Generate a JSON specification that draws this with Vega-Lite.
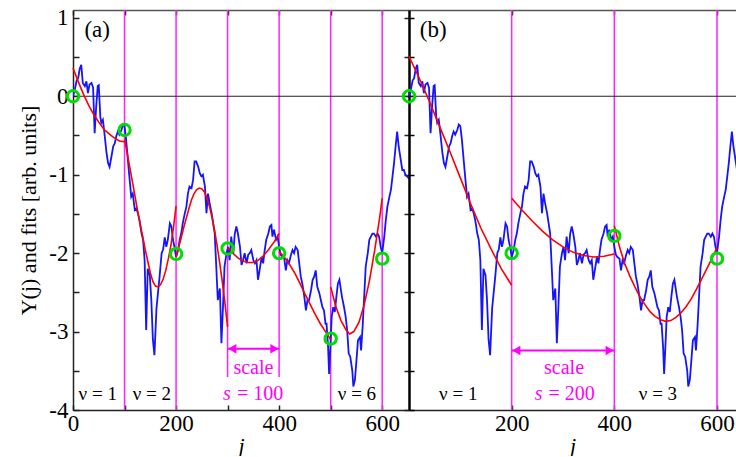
{
  "$schema": "https://vega.github.io/schema/vega-lite/v6.json",
  "padding": {"left": 17, "top": 6, "right": 0, "bottom": 0},
  "spacing": 0,
  "bounds": "flush",
  "background": "white",
  "config": {
    "view": {"stroke": null},
    "axis": {"labelFont": "Liberation Serif", "titleFont": "Liberation Serif", "labelFontSize": 23, "titleFontSize": 22, "labelColor": "black", "titleColor": "black", "titleFontWeight": "normal", "domainColor": "#222", "tickColor": "#222", "grid": false, "domainWidth": 1.5, "tickWidth": 1.5},
    "text": {"font": "Liberation Serif"}
  },
  "datasets": {
    "blue": [{"j":0,"y":0.0},{"j":4,"y":0.1},{"j":7,"y":0.2},{"j":10,"y":0.23},{"j":13,"y":0.35},{"j":16,"y":0.4},{"j":19,"y":0.17},{"j":23,"y":0.13},{"j":26,"y":0.19},{"j":29,"y":0.04},{"j":32,"y":0.15},{"j":36,"y":0.17},{"j":39,"y":0.11},{"j":42,"y":-0.47},{"j":45,"y":-0.13},{"j":48,"y":0.13},{"j":50,"y":0.14},{"j":53,"y":-0.26},{"j":55,"y":-0.34},{"j":58,"y":-0.3},{"j":61,"y":-0.47},{"j":65,"y":-0.72},{"j":68,"y":-0.85},{"j":71,"y":-0.9},{"j":74,"y":-0.79},{"j":78,"y":-0.64},{"j":81,"y":-0.6},{"j":84,"y":-0.51},{"j":87,"y":-0.45},{"j":90,"y":-0.49},{"j":94,"y":-0.43},{"j":97,"y":-0.36},{"j":100,"y":-0.38},{"j":103,"y":-0.55},{"j":107,"y":-0.85},{"j":110,"y":-1.07},{"j":113,"y":-1.28},{"j":116,"y":-1.24},{"j":120,"y":-1.45},{"j":123,"y":-1.43},{"j":126,"y":-1.49},{"j":129,"y":-1.58},{"j":133,"y":-1.75},{"j":136,"y":-1.83},{"j":139,"y":-2.09},{"j":142,"y":-2.98},{"j":145,"y":-2.2},{"j":149,"y":-2.28},{"j":152,"y":-2.6},{"j":155,"y":-3.1},{"j":158,"y":-3.3},{"j":162,"y":-2.7},{"j":165,"y":-2.5},{"j":168,"y":-2.3},{"j":172,"y":-2.0},{"j":175,"y":-1.95},{"j":178,"y":-1.8},{"j":181,"y":-1.92},{"j":184,"y":-1.83},{"j":188,"y":-1.62},{"j":191,"y":-1.66},{"j":194,"y":-1.83},{"j":197,"y":-1.92},{"j":200,"y":-2.05},{"j":204,"y":-1.96},{"j":207,"y":-1.83},{"j":210,"y":-1.75},{"j":213,"y":-1.62},{"j":217,"y":-1.49},{"j":220,"y":-1.41},{"j":223,"y":-1.24},{"j":226,"y":-1.15},{"j":230,"y":-1.17},{"j":233,"y":-1.07},{"j":236,"y":-0.83},{"j":239,"y":-0.83},{"j":243,"y":-0.9},{"j":246,"y":-0.98},{"j":249,"y":-1.02},{"j":252,"y":-1.0},{"j":256,"y":-1.15},{"j":259,"y":-1.49},{"j":262,"y":-1.24},{"j":265,"y":-1.36},{"j":269,"y":-1.49},{"j":272,"y":-1.62},{"j":275,"y":-1.75},{"j":278,"y":-2.17},{"j":281,"y":-2.6},{"j":285,"y":-2.45},{"j":288,"y":-3.15},{"j":291,"y":-2.69},{"j":294,"y":-2.17},{"j":298,"y":-2.0},{"j":301,"y":-1.92},{"j":304,"y":-2.09},{"j":307,"y":-1.79},{"j":311,"y":-2.0},{"j":314,"y":-1.75},{"j":317,"y":-1.66},{"j":320,"y":-1.75},{"j":324,"y":-1.92},{"j":327,"y":-2.15},{"j":330,"y":-2.09},{"j":333,"y":-2.0},{"j":337,"y":-2.13},{"j":340,"y":-2.02},{"j":343,"y":-2.0},{"j":346,"y":-1.96},{"j":350,"y":-2.09},{"j":353,"y":-2.13},{"j":356,"y":-2.09},{"j":359,"y":-2.34},{"j":362,"y":-2.22},{"j":366,"y":-2.05},{"j":369,"y":-2.13},{"j":372,"y":-1.96},{"j":375,"y":-1.83},{"j":379,"y":-1.75},{"j":382,"y":-1.66},{"j":385,"y":-1.64},{"j":387,"y":-1.79},{"j":390,"y":-1.7},{"j":394,"y":-1.83},{"j":397,"y":-1.79},{"j":400,"y":-1.92},{"j":403,"y":-2.02},{"j":406,"y":-2.05},{"j":410,"y":-2.07},{"j":413,"y":-2.22},{"j":416,"y":-2.09},{"j":419,"y":-2.13},{"j":423,"y":-2.02},{"j":426,"y":-1.96},{"j":429,"y":-2.0},{"j":432,"y":-1.92},{"j":436,"y":-1.96},{"j":439,"y":-2.13},{"j":442,"y":-2.3},{"j":445,"y":-2.39},{"j":449,"y":-2.56},{"j":452,"y":-2.73},{"j":455,"y":-2.6},{"j":458,"y":-2.6},{"j":462,"y":-2.47},{"j":465,"y":-2.34},{"j":468,"y":-2.3},{"j":471,"y":-2.22},{"j":474,"y":-2.43},{"j":478,"y":-2.51},{"j":481,"y":-2.6},{"j":484,"y":-2.69},{"j":487,"y":-2.73},{"j":490,"y":-2.9},{"j":492,"y":-2.9},{"j":495,"y":-3.2},{"j":497,"y":-3.54},{"j":500,"y":-3.11},{"j":502,"y":-2.81},{"j":505,"y":-2.69},{"j":508,"y":-2.75},{"j":511,"y":-2.56},{"j":514,"y":-2.39},{"j":517,"y":-2.34},{"j":519,"y":-2.43},{"j":522,"y":-2.56},{"j":526,"y":-2.69},{"j":529,"y":-2.81},{"j":532,"y":-2.98},{"j":535,"y":-3.28},{"j":538,"y":-3.32},{"j":542,"y":-3.5},{"j":544,"y":-3.7},{"j":547,"y":-3.62},{"j":550,"y":-3.37},{"j":553,"y":-3.11},{"j":557,"y":-3.07},{"j":559,"y":-3.24},{"j":562,"y":-2.94},{"j":565,"y":-2.56},{"j":568,"y":-2.17},{"j":572,"y":-2.0},{"j":575,"y":-1.83},{"j":578,"y":-1.79},{"j":581,"y":-1.75},{"j":584,"y":-1.75},{"j":588,"y":-1.79},{"j":591,"y":-1.75},{"j":594,"y":-1.79},{"j":597,"y":-1.92},{"j":600,"y":-2.0},{"j":604,"y":-1.79},{"j":607,"y":-1.58},{"j":610,"y":-1.41},{"j":614,"y":-1.28},{"j":617,"y":-1.19},{"j":620,"y":-1.02},{"j":623,"y":-0.85},{"j":626,"y":-0.64},{"j":629,"y":-0.45},{"j":632,"y":-0.64},{"j":636,"y":-0.81},{"j":639,"y":-0.94},{"j":642,"y":-0.94},{"j":645,"y":-1.0},{"j":648,"y":-1.02},{"j":652,"y":-1.05}],
    "fitA": [
      {"seg":1,"j":0,"y":0.36},{"seg":1,"j":10,"y":0.19},{"seg":1,"j":20,"y":0.03},{"seg":1,"j":30,"y":-0.11},{"seg":1,"j":40,"y":-0.23},{"seg":1,"j":50,"y":-0.33},{"seg":1,"j":60,"y":-0.42},{"seg":1,"j":70,"y":-0.48},{"seg":1,"j":80,"y":-0.53},{"seg":1,"j":90,"y":-0.57},{"seg":1,"j":100,"y":-0.58},
      {"seg":2,"j":100,"y":-0.55},{"seg":2,"j":105,"y":-0.72},{"seg":2,"j":110,"y":-0.9},{"seg":2,"j":115,"y":-1.08},{"seg":2,"j":120,"y":-1.26},{"seg":2,"j":125,"y":-1.45},{"seg":2,"j":130,"y":-1.62},{"seg":2,"j":135,"y":-1.78},{"seg":2,"j":140,"y":-1.95},{"seg":2,"j":145,"y":-2.1},{"seg":2,"j":150,"y":-2.25},{"seg":2,"j":155,"y":-2.36},{"seg":2,"j":160,"y":-2.42},{"seg":2,"j":165,"y":-2.43},{"seg":2,"j":170,"y":-2.4},{"seg":2,"j":175,"y":-2.33},{"seg":2,"j":180,"y":-2.22},{"seg":2,"j":185,"y":-2.07},{"seg":2,"j":190,"y":-1.9},{"seg":2,"j":195,"y":-1.67},{"seg":2,"j":200,"y":-1.4},
      {"seg":3,"j":200,"y":-2.05},{"seg":3,"j":205,"y":-1.93},{"seg":3,"j":210,"y":-1.8},{"seg":3,"j":215,"y":-1.67},{"seg":3,"j":220,"y":-1.55},{"seg":3,"j":225,"y":-1.43},{"seg":3,"j":230,"y":-1.32},{"seg":3,"j":235,"y":-1.24},{"seg":3,"j":240,"y":-1.19},{"seg":3,"j":245,"y":-1.17},{"seg":3,"j":250,"y":-1.18},{"seg":3,"j":255,"y":-1.22},{"seg":3,"j":260,"y":-1.3},{"seg":3,"j":265,"y":-1.41},{"seg":3,"j":270,"y":-1.55},{"seg":3,"j":275,"y":-1.72},{"seg":3,"j":280,"y":-1.92},{"seg":3,"j":285,"y":-2.14},{"seg":3,"j":290,"y":-2.38},{"seg":3,"j":295,"y":-2.65},{"seg":3,"j":300,"y":-2.94},
      {"seg":4,"j":300,"y":-1.93},{"seg":4,"j":310,"y":-2.0},{"seg":4,"j":320,"y":-2.06},{"seg":4,"j":330,"y":-2.1},{"seg":4,"j":340,"y":-2.12},{"seg":4,"j":350,"y":-2.12},{"seg":4,"j":360,"y":-2.09},{"seg":4,"j":370,"y":-2.03},{"seg":4,"j":380,"y":-1.95},{"seg":4,"j":390,"y":-1.86},{"seg":4,"j":400,"y":-1.75},
      {"seg":5,"j":400,"y":-1.98},{"seg":5,"j":410,"y":-2.05},{"seg":5,"j":420,"y":-2.14},{"seg":5,"j":430,"y":-2.25},{"seg":5,"j":440,"y":-2.38},{"seg":5,"j":450,"y":-2.52},{"seg":5,"j":460,"y":-2.65},{"seg":5,"j":470,"y":-2.78},{"seg":5,"j":480,"y":-2.9},{"seg":5,"j":490,"y":-3.0},{"seg":5,"j":500,"y":-3.1},
      {"seg":6,"j":500,"y":-2.43},{"seg":6,"j":510,"y":-2.68},{"seg":6,"j":520,"y":-2.86},{"seg":6,"j":530,"y":-2.98},{"seg":6,"j":537,"y":-3.03},{"seg":6,"j":545,"y":-3.0},{"seg":6,"j":555,"y":-2.88},{"seg":6,"j":565,"y":-2.66},{"seg":6,"j":575,"y":-2.36},{"seg":6,"j":585,"y":-1.98},{"seg":6,"j":595,"y":-1.55},{"seg":6,"j":600,"y":-1.3}
    ],
    "fitB": [
      {"seg":1,"j":0,"y":0.51},{"seg":1,"j":20,"y":0.23},{"seg":1,"j":40,"y":-0.07},{"seg":1,"j":60,"y":-0.39},{"seg":1,"j":80,"y":-0.71},{"seg":1,"j":100,"y":-1.04},{"seg":1,"j":120,"y":-1.37},{"seg":1,"j":140,"y":-1.68},{"seg":1,"j":160,"y":-1.95},{"seg":1,"j":180,"y":-2.2},{"seg":1,"j":200,"y":-2.41},
      {"seg":2,"j":200,"y":-1.3},{"seg":2,"j":220,"y":-1.45},{"seg":2,"j":240,"y":-1.59},{"seg":2,"j":260,"y":-1.72},{"seg":2,"j":280,"y":-1.83},{"seg":2,"j":300,"y":-1.92},{"seg":2,"j":320,"y":-1.99},{"seg":2,"j":340,"y":-2.03},{"seg":2,"j":360,"y":-2.05},{"seg":2,"j":380,"y":-2.04},{"seg":2,"j":400,"y":-2.01},
      {"seg":3,"j":400,"y":-1.65},{"seg":3,"j":410,"y":-1.92},{"seg":3,"j":420,"y":-2.13},{"seg":3,"j":430,"y":-2.29},{"seg":3,"j":440,"y":-2.43},{"seg":3,"j":450,"y":-2.56},{"seg":3,"j":460,"y":-2.66},{"seg":3,"j":470,"y":-2.75},{"seg":3,"j":480,"y":-2.81},{"seg":3,"j":490,"y":-2.85},{"seg":3,"j":500,"y":-2.87},{"seg":3,"j":510,"y":-2.86},{"seg":3,"j":520,"y":-2.82},{"seg":3,"j":530,"y":-2.76},{"seg":3,"j":540,"y":-2.68},{"seg":3,"j":550,"y":-2.58},{"seg":3,"j":560,"y":-2.46},{"seg":3,"j":570,"y":-2.33},{"seg":3,"j":580,"y":-2.2},{"seg":3,"j":590,"y":-2.07},{"seg":3,"j":600,"y":-1.93}
    ]
  },
  "hconcat": [
    {
      "width": 336,
      "height": 400,
      "resolve": {"axis": {"x": "independent", "y": "independent"}},
      "layer": [
        {
          "data": {"values": [{"j":100,"top":1.1,"bottom":-4},{"j":200,"top":1.1,"bottom":-4},{"j":300,"top":1.1,"bottom":-3.58},{"j":400,"top":1.1,"bottom":-3.58},{"j":500,"top":1.1,"bottom":-4},{"j":600,"top":1.1,"bottom":-4}]},
          "mark": {"type": "rule", "color": "#ff22ff", "strokeWidth": 1.5},
          "encoding": {
            "x": {"field": "j", "type": "quantitative", "scale": {"domain": [0, 652], "nice": false, "zero": false},
                  "axis": {"orient": "bottom", "values": [0,100,200,300,400,500,600], "labelExpr": "datum.value % 200 == 0 ? '' + datum.value : ''", "tickSize": -5, "labelPadding": 7, "title": "j", "titleFontStyle": "italic", "titlePadding": 0, "labelFlush": false}},
            "y": {"field": "top", "type": "quantitative", "scale": {"domain": [-4, 1.1], "nice": false, "zero": false},
                  "axis": {"orient": "left", "values": [-4,-3.5,-3,-2.5,-2,-1.5,-1,-0.5,0,0.5,1], "labelExpr": "datum.value % 1 == 0 ? '' + datum.value : ''", "tickSize": -6, "labelPadding": 11, "title": "Y(j) and fits [arb. units]", "titlePadding": 8, "labelFlush": false}},
            "y2": {"field": "bottom"}
          }
        },
        {
          "data": {"values": [{}]},
          "mark": {"type": "rule", "color": "#222", "strokeWidth": 1.2},
          "encoding": {"y": {"datum": 0, "type": "quantitative", "axis": null}}
        },
        {
          "data": {"name": "blue"},
          "mark": {"type": "line", "color": "#1414ff", "strokeWidth": 1.8, "clip": true},
          "encoding": {"x": {"field": "j", "type": "quantitative", "axis": null}, "y": {"field": "y", "type": "quantitative", "axis": null}}
        },
        {
          "data": {"name": "fitA"},
          "mark": {"type": "line", "color": "#ff0000", "strokeWidth": 1.6},
          "encoding": {"x": {"field": "j", "type": "quantitative", "axis": null}, "y": {"field": "y", "type": "quantitative", "axis": null}, "detail": {"field": "seg"}}
        },
        {
          "data": {"values": [{"x1":300,"x2":400,"y":-3.22}]},
          "mark": {"type": "rule", "color": "#ff00ff", "strokeWidth": 2},
          "encoding": {"x": {"field": "x1", "type": "quantitative", "axis": null}, "x2": {"field": "x2"}, "y": {"field": "y", "type": "quantitative", "axis": null}}
        },
        {
          "data": {"values": [{"j":309,"y":-3.22,"dir":"left"},{"j":391,"y":-3.22,"dir":"right"}]},
          "mark": {"type": "point", "filled": true, "color": "#ff00ff", "opacity": 1, "size": 90},
          "encoding": {"x": {"field": "j", "type": "quantitative", "axis": null}, "y": {"field": "y", "type": "quantitative", "axis": null},
                       "shape": {"field": "dir", "type": "nominal", "scale": {"domain": ["left","right"], "range": ["triangle-left","triangle-right"]}, "legend": null}}
        },
        {
          "data": {"values": [{"j":47,"y":0.84,"t":"(a)"}]},
          "mark": {"type": "text", "fontSize": 23, "color": "black", "baseline": "middle"},
          "encoding": {"x": {"field": "j", "type": "quantitative", "axis": null}, "y": {"field": "y", "type": "quantitative", "axis": null}, "text": {"field": "t"}}
        },
        {
          "data": {"values": [{"j":48,"y":-3.8,"t":"ν = 1"},{"j":153,"y":-3.8,"t":"ν = 2"},{"j":551,"y":-3.8,"t":"ν = 6"}]},
          "mark": {"type": "text", "fontSize": 19, "color": "black", "baseline": "middle"},
          "encoding": {"x": {"field": "j", "type": "quantitative", "axis": null}, "y": {"field": "y", "type": "quantitative", "axis": null}, "text": {"field": "t"}}
        },
        {
          "data": {"values": [{"j":350,"y":-3.47,"t":"scale"}]},
          "mark": {"type": "text", "fontSize": 20, "color": "#ff00ff", "baseline": "middle"},
          "encoding": {"x": {"field": "j", "type": "quantitative", "axis": null}, "y": {"field": "y", "type": "quantitative", "axis": null}, "text": {"field": "t"}}
        },
        {
          "data": {"values": [{"j":291,"y":-3.8,"t":"s"}]},
          "mark": {"type": "text", "fontSize": 20, "color": "#ff00ff", "baseline": "middle", "align": "left", "fontStyle": "italic"},
          "encoding": {"x": {"field": "j", "type": "quantitative", "axis": null}, "y": {"field": "y", "type": "quantitative", "axis": null}, "text": {"field": "t"}}
        },
        {
          "data": {"values": [{"j":408,"y":-3.8,"t":"= 100"}]},
          "mark": {"type": "text", "fontSize": 20, "color": "#ff00ff", "baseline": "middle", "align": "right"},
          "encoding": {"x": {"field": "j", "type": "quantitative", "axis": null}, "y": {"field": "y", "type": "quantitative", "axis": null}, "text": {"field": "t"}}
        },
        {
          "data": {"values": [{"j":0,"y":0.0},{"j":100,"y":-0.43},{"j":200,"y":-2.01},{"j":300,"y":-1.94},{"j":400,"y":-2.0},{"j":500,"y":-3.09},{"j":600,"y":-2.07}]},
          "mark": {"type": "point", "shape": "circle", "filled": false, "color": "#00dd00", "strokeWidth": 3, "size": 130, "opacity": 1},
          "encoding": {
            "x": {"field": "j", "type": "quantitative", "axis": {"orient": "top", "values": [0,100,200,300,400,500,600], "labels": false, "tickSize": -5, "title": null, "domainColor": "#555"}},
            "y": {"field": "y", "type": "quantitative", "axis": {"orient": "right", "values": [-4,-3.5,-3,-2.5,-2,-1.5,-1,-0.5,0,0.5,1], "labels": false, "tickSize": -5, "title": null, "domain": false}}
          }
        }
      ]
    },
    {
      "width": 327,
      "height": 400,
      "resolve": {"axis": {"x": "independent", "y": "independent"}},
      "layer": [
        {
          "data": {"values": [{"j":200,"top":1.1,"bottom":-4},{"j":400,"top":1.1,"bottom":-4},{"j":600,"top":1.1,"bottom":-4}]},
          "mark": {"type": "rule", "color": "#ff22ff", "strokeWidth": 1.5},
          "encoding": {
            "x": {"field": "j", "type": "quantitative", "scale": {"domain": [0, 637], "nice": false, "zero": false},
                  "axis": {"orient": "bottom", "values": [200,400,600], "tickSize": -5, "labelPadding": 7, "title": "j", "titleFontStyle": "italic", "titlePadding": 0, "labelFlush": false}},
            "y": {"field": "top", "type": "quantitative", "scale": {"domain": [-4, 1.1], "nice": false, "zero": false},
                  "axis": {"orient": "left", "values": [-4,-3.5,-3,-2.5,-2,-1.5,-1,-0.5,0,0.5,1], "labels": false, "tickSize": -5, "title": null, "domainWidth": 2.5, "domainColor": "black", "tickColor": "black"}},
            "y2": {"field": "bottom"}
          }
        },
        {
          "data": {"values": [{}]},
          "mark": {"type": "rule", "color": "#222", "strokeWidth": 1.2},
          "encoding": {"y": {"datum": 0, "type": "quantitative", "axis": null}}
        },
        {
          "data": {"name": "blue"},
          "mark": {"type": "line", "color": "#1414ff", "strokeWidth": 1.8, "clip": true},
          "encoding": {"x": {"field": "j", "type": "quantitative", "axis": null}, "y": {"field": "y", "type": "quantitative", "axis": null}}
        },
        {
          "data": {"name": "fitB"},
          "mark": {"type": "line", "color": "#ff0000", "strokeWidth": 1.6},
          "encoding": {"x": {"field": "j", "type": "quantitative", "axis": null}, "y": {"field": "y", "type": "quantitative", "axis": null}, "detail": {"field": "seg"}}
        },
        {
          "data": {"values": [{"x1":200,"x2":400,"y":-3.24}]},
          "mark": {"type": "rule", "color": "#ff00ff", "strokeWidth": 2},
          "encoding": {"x": {"field": "x1", "type": "quantitative", "axis": null}, "x2": {"field": "x2"}, "y": {"field": "y", "type": "quantitative", "axis": null}}
        },
        {
          "data": {"values": [{"j":209,"y":-3.24,"dir":"left"},{"j":391,"y":-3.24,"dir":"right"}]},
          "mark": {"type": "point", "filled": true, "color": "#ff00ff", "opacity": 1, "size": 90},
          "encoding": {"x": {"field": "j", "type": "quantitative", "axis": null}, "y": {"field": "y", "type": "quantitative", "axis": null},
                       "shape": {"field": "dir", "type": "nominal", "scale": {"domain": ["left","right"], "range": ["triangle-left","triangle-right"]}, "legend": null}}
        },
        {
          "data": {"values": [{"j":47,"y":0.84,"t":"(b)"}]},
          "mark": {"type": "text", "fontSize": 23, "color": "black", "baseline": "middle"},
          "encoding": {"x": {"field": "j", "type": "quantitative", "axis": null}, "y": {"field": "y", "type": "quantitative", "axis": null}, "text": {"field": "t"}}
        },
        {
          "data": {"values": [{"j":96,"y":-3.8,"t":"ν = 1"},{"j":485,"y":-3.8,"t":"ν = 3"}]},
          "mark": {"type": "text", "fontSize": 19, "color": "black", "baseline": "middle"},
          "encoding": {"x": {"field": "j", "type": "quantitative", "axis": null}, "y": {"field": "y", "type": "quantitative", "axis": null}, "text": {"field": "t"}}
        },
        {
          "data": {"values": [{"j":302,"y":-3.47,"t":"scale"}]},
          "mark": {"type": "text", "fontSize": 20, "color": "#ff00ff", "baseline": "middle"},
          "encoding": {"x": {"field": "j", "type": "quantitative", "axis": null}, "y": {"field": "y", "type": "quantitative", "axis": null}, "text": {"field": "t"}}
        },
        {
          "data": {"values": [{"j":245,"y":-3.8,"t":"s"}]},
          "mark": {"type": "text", "fontSize": 20, "color": "#ff00ff", "baseline": "middle", "align": "left", "fontStyle": "italic"},
          "encoding": {"x": {"field": "j", "type": "quantitative", "axis": null}, "y": {"field": "y", "type": "quantitative", "axis": null}, "text": {"field": "t"}}
        },
        {
          "data": {"values": [{"j":362,"y":-3.8,"t":"= 200"}]},
          "mark": {"type": "text", "fontSize": 20, "color": "#ff00ff", "baseline": "middle", "align": "right"},
          "encoding": {"x": {"field": "j", "type": "quantitative", "axis": null}, "y": {"field": "y", "type": "quantitative", "axis": null}, "text": {"field": "t"}}
        },
        {
          "data": {"values": [{"j":0,"y":0.0},{"j":200,"y":-2.0},{"j":400,"y":-1.78},{"j":600,"y":-2.07}]},
          "mark": {"type": "point", "shape": "circle", "filled": false, "color": "#00dd00", "strokeWidth": 3, "size": 130, "opacity": 1},
          "encoding": {
            "x": {"field": "j", "type": "quantitative", "axis": {"orient": "top", "values": [200,400,600], "labels": false, "tickSize": -5, "title": null, "domainColor": "#555"}},
            "y": {"field": "y", "type": "quantitative", "axis": null}
          }
        }
      ]
    }
  ]
}
